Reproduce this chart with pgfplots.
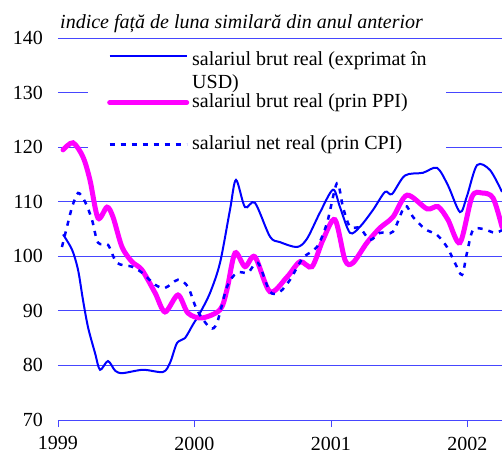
\documentclass[border=0pt]{standalone}
\usepackage{fontspec}
\setmainfont{Liberation Serif}
\usepackage{pgfplots}
\pgfplotsset{compat=1.18}
\definecolor{mag}{RGB}{255,0,255}
\definecolor{bl}{RGB}{0,0,255}
\definecolor{gridbl}{RGB}{70,70,255}
\begin{document}
\fontsize{20bp}{23bp}\selectfont
\begin{tikzpicture}
\begin{axis}[
  at={(0,0)}, anchor=south west,
  scale only axis, width=444bp, height=382bp,
  xmin=1999, xmax=2002.253, ymin=70, ymax=140,
  axis lines*=left,
  y axis line style={draw=none},
  x axis line style={draw=gridbl, line width=0.75bp, -},
  ytick={70,80,...,140},
  ytick style={draw=none},
  xtick={1999,2000,2001,2002},
  xticklabels={1999,2000,2001,2002},
  xtick align=outside,
  major tick length=7bp,
  xtick style={draw=gridbl, line width=0.75bp},
  ymajorgrids,
  grid style={draw=gridbl, line width=0.75bp},
  /pgf/number format/assume math mode=true,
  yticklabel style={anchor=east, inner sep=0pt, xshift=-15bp},
  xticklabel style={anchor=north, inner sep=0pt, yshift=-9.5bp},
  legend cell align=left,
  legend image code/.code={\draw[#1] (0bp,0bp) -- (77bp,0bp);},
  legend style={at={(rel axis cs:0.0676,0.982)}, anchor=north west,
    draw=none, fill=white, inner xsep=19bp, inner ysep=6bp,
    row sep=23bp, column sep=3bp,
    nodes={inner sep=0pt, text height=14bp, text depth=5bp}},
]
\addplot[bl, line width=2bp, smooth, tension=0.5, legend image post style={yshift=5bp}] coordinates {
(1999.037,104) (1999.103,101.2) (1999.147,97.5) (1999.183,92) (1999.220,87)
(1999.271,82.3) (1999.308,79.2) (1999.366,80.8) (1999.42,79) (1999.476,78.6)
(1999.623,79.2) (1999.769,78.8) (1999.821,80.5) (1999.872,84.1) (1999.930,85)
(1999.989,87.5) (2000.040,89.6) (2000.114,93.3) (2000.187,98.8) (2000.260,108.5)
(2000.304,114) (2000.370,109) (2000.443,109.8) (2000.553,103.6) (2000.626,102.6)
(2000.751,101.7) (2000.824,103.2) (2000.919,108) (2001.015,112.2) (2001.066,109)
(2001.139,104.3) (2001.212,105.4) (2001.308,108.5) (2001.396,111.8) (2001.447,111.4)
(2001.542,114.8) (2001.674,115.3) (2001.777,116.2) (2001.857,113) (2001.945,108.1)
(2001.996,111) (2002.070,116.7) (2002.165,115.8) (2002.253,111.8)
};
\addlegendentry{\vtop{\baselineskip=23bp\hbox{salariul brut real (exprimat în}\hbox{USD)}}}
\addplot[mag, line width=5bp, smooth, tension=0.5, line cap=round] coordinates {
(1999.037,119.5) (1999.110,120.8) (1999.183,118.2) (1999.234,114) (1999.293,107)
(1999.359,109) (1999.403,107.2) (1999.469,101.7) (1999.542,99) (1999.615,97.5)
(1999.711,93.3) (1999.784,89.8) (1999.879,92.9) (1999.952,89.6) (2000.055,88.7)
(2000.187,90.2) (2000.238,93.9) (2000.297,100.6) (2000.370,98.1) (2000.443,99.9)
(2000.553,93.5) (2000.678,96.2) (2000.773,99) (2000.861,98.1) (2000.941,103)
(2001.029,106.7) (2001.103,99.3) (2001.161,98.8) (2001.264,102.5) (2001.359,105.2)
(2001.454,107.2) (2001.557,111.2) (2001.703,108.7) (2001.784,109.1) (2001.857,106.7)
(2001.945,102.5) (2002.033,110.9) (2002.106,111.6) (2002.187,110.7) (2002.253,105.4)
};
\addlegendentry{salariul brut real (prin PPI)}
\addplot[bl, line width=2.5bp, smooth, tension=0.5, dash pattern=on 5bp off 6bp] coordinates {
(1999.029,101.7) (1999.066,105.4) (1999.103,109) (1999.147,111.6) (1999.198,110)
(1999.249,106.7) (1999.293,102.5) (1999.366,102.1) (1999.432,98.8) (1999.542,98.1)
(1999.615,97) (1999.711,94.8) (1999.784,94.2) (1999.879,95.7) (1999.952,94.4)
(2000.018,90.2) (2000.114,86.9) (2000.165,87.8) (2000.238,94.4) (2000.311,97)
(2000.392,97) (2000.465,98.8) (2000.553,93.5) (2000.626,93.5) (2000.700,95.7)
(2000.795,99.7) (2000.897,101.7) (2000.971,106.1) (2001.044,113.4) (2001.088,109)
(2001.139,105.4) (2001.212,105.2) (2001.286,103) (2001.359,104.3) (2001.454,104.5)
(2001.542,109.2) (2001.601,107.2) (2001.689,105) (2001.777,103.9) (2001.850,101.7)
(2001.908,98.8) (2001.960,96.6) (2001.996,100.6) (2002.040,104.8) (2002.114,105)
(2002.201,104.3) (2002.253,104.8)
};
\addlegendentry{salariul net real (prin CPI)}
\end{axis}
\node[anchor=base west, inner sep=0pt, font=\itshape] at (2bp,391.5bp)
  {indice față de luna similară din anul anterior};
\pgfresetboundingbox
\useasboundingbox (-58bp,-30bp) rectangle (444bp,420bp);
\end{tikzpicture}
\end{document}
